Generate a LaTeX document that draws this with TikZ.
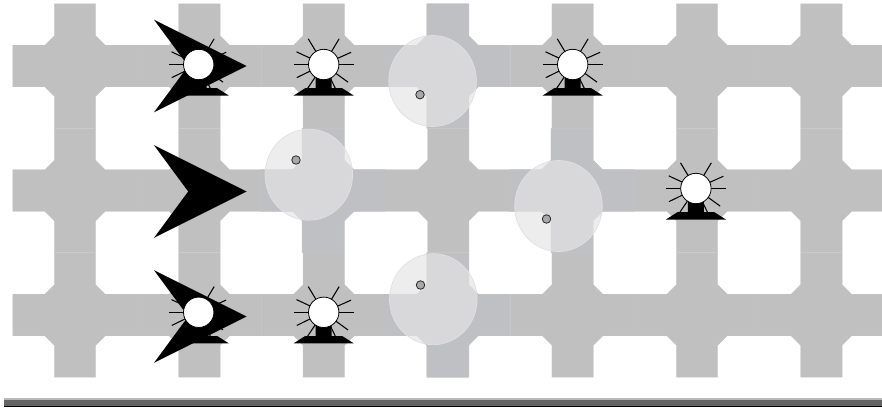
\documentclass[tikz,border=0pt]{standalone}
\definecolor{tileA}{RGB}{192,192,192}
\definecolor{tileB}{RGB}{191,192,196}
\definecolor{seam}{RGB}{197,197,197}
\definecolor{glass}{RGB}{228,228,229}
\definecolor{glassedge}{RGB}{224,224,224}
\definecolor{dotfill}{RGB}{168,168,168}
\definecolor{dotedge}{RGB}{40,40,40}
\definecolor{barlight}{RGB}{185,185,185}
\definecolor{bardark}{RGB}{100,100,100}
\tikzset{
  tile/.pic={
    \path[pic actions,draw=seam,line width=.3pt]
      (-20.7,-62.2) -- (20.7,-62.2) -- (20.7,-30.3) -- (30.2,-20.8) -- (62.2,-20.8) -- (62.2,20.8)
      -- (30.2,20.8) -- (20.7,30.3) -- (20.7,62.2) -- (-20.7,62.2) -- (-20.7,30.3) -- (-30.2,20.8)
      -- (-62.2,20.8) -- (-62.2,-20.8) -- (-30.2,-20.8) -- (-20.7,-30.3) -- cycle;
  },
  sun/.pic={
    \foreach \a in {0,36,64,90,124,154,180,205,239,301,336}
      \draw[black,line width=1.05pt] (\a:15) -- (\a:30);
    \fill[black] (-30,31) -- (-18.5,23.7) -- (-8,23.7) -- (-8,12) -- (8,12) -- (8,23.7) -- (18.5,23.7) -- (30,31) -- cycle;
    \path[draw=black,fill=white,line width=.8pt] (0,0) circle[radius=15.2];
  },
  arrowhead/.pic={
    \fill[black] (0,0) -- (-92.7,-46.3) -- (-58.5,0) -- (-92.7,46.3) -- cycle;
  },
  lens/.pic={
    \path[fill=glass,fill opacity=.68,draw=glassedge,line width=.7pt] (0,0) ellipse[x radius=43.8,y radius=45.5];
  },
  probe/.style={fill=dotfill,draw=dotedge,line width=.8pt,circle,inner sep=0pt,minimum size=8.5pt}
}
\begin{document}
\begin{tikzpicture}[x=1pt,y=-1pt]
\useasboundingbox (0,0) rectangle (882,407);
\clip (0,0) rectangle (882,407);
\foreach \r in {66,190.5,315}
  \foreach \i in {0,...,6}
    \pic[fill=tileA] at ({75+124.4*\i},\r) {tile};
\pic[fill=tileB] at (447.2,66) {tile};
\pic[fill=tileB] at (322.8,190.5) {tile};
\pic[fill=tileB] at (571.6,190.5) {tile};
\pic[fill=tileB] at (447.2,315) {tile};
\fill[barlight] (4,398) rectangle (882,400.3);
\fill[bardark] (4,400.3) rectangle (882,405.5);
\fill[black] (4,405.5) rectangle (882,407);
\pic at (246.7,66) {arrowhead};
\pic at (246.7,191.5) {arrowhead};
\pic at (246.7,316.5) {arrowhead};
\pic at (198.7,64.5) {sun};
\pic at (323.7,64.5) {sun};
\pic at (572.7,64.5) {sun};
\pic at (695.9,188.5) {sun};
\pic at (198.7,312.3) {sun};
\pic at (323.7,312.3) {sun};
\pic at (432.6,81) {lens};
\pic at (308.8,174.7) {lens};
\pic at (558.5,206) {lens};
\pic at (433.3,299.2) {lens};
\node[probe] (p1) at (420,94.7) {};
\node[probe] (p2) at (296,160) {};
\node[probe] (p3) at (546.5,219) {};
\node[probe] (p4) at (420.5,285) {};
\end{tikzpicture}
\end{document}
